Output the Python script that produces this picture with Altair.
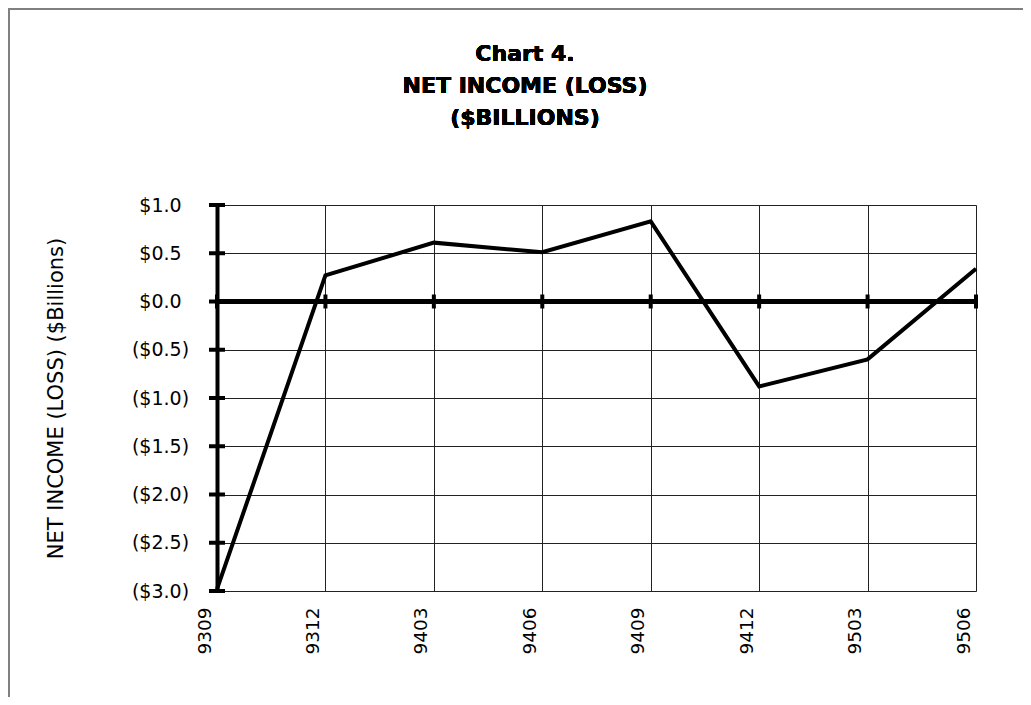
import altair as alt
import pandas as pd

periods = ["9309", "9312", "9403", "9406", "9409", "9412", "9503", "9506"]
net_income = [-2.98, 0.27, 0.61, 0.51, 0.83, -0.88, -0.60, 0.34]
y_ticks = [-3.0, -2.5, -2.0, -1.5, -1.0, -0.5, 0.0, 0.5, 1.0]
title_lines = ["Chart 4.", "NET INCOME (LOSS)", "($BILLIONS)"]
y_title = "NET INCOME (LOSS) ($Billions)"

FONT = "DejaVu Sans"

df = pd.DataFrame({"period": periods, "value": net_income})
yt_df = pd.DataFrame({"period": [periods[0]] * len(y_ticks), "value": y_ticks})
zero_df = pd.DataFrame({"period": periods, "value": [0.0] * len(periods)})

x_scale = alt.Scale(type="point", padding=0, domain=periods)
y_scale = alt.Scale(domain=[-3, 1], nice=False, zero=False)

label_expr = ("datum.value < 0 ? '($' + format(-datum.value, '.1f') + ')' "
              ": '$' + format(datum.value, '.1f')")

x_axis = alt.Axis(title=None, labelAngle=270, labelFontSize=18.5, labelFont=FONT,
                  labelColor="black", labelPadding=16, labelOffset=-13,
                  ticks=False, tickSize=0, domain=False, grid=True,
                  gridColor="#222222", gridWidth=1)
y_axis = alt.Axis(values=y_ticks, labelExpr=label_expr, labelAlign="center",
                  labelBaseline="middle", labelPadding=57, labelFontSize=19,
                  labelFont=FONT, labelColor="black", ticks=False, tickSize=0,
                  domain=True, domainColor="black", domainWidth=4,
                  grid=True, gridColor="#222222", gridWidth=1,
                  title=y_title, titleFont=FONT, titleFontSize=21,
                  titleFontWeight="normal", titleColor="black",
                  titleAngle=270, titleAlign="center", titleBaseline="alphabetic",
                  titleX=-155, titleY=193)

x_enc = alt.X("period:O", scale=x_scale, sort=periods, axis=x_axis)
y_enc = alt.Y("value:Q", scale=y_scale, axis=y_axis)

frame = alt.Chart(df).mark_rect(fillOpacity=0, stroke="#808080", strokeWidth=2).encode(
    x=alt.value(-208), x2=alt.value(1200), y=alt.value(-196), y2=alt.value(1200)
)

title = alt.Chart(df).mark_text(font=FONT, fontSize=22, fontWeight="bold", color="black",
                                align="center", baseline="alphabetic", lineHeight=32).encode(
    text=alt.value(title_lines), x=alt.value(308), y=alt.value(-144)
)

line = alt.Chart(df).mark_line(color="black", strokeWidth=4, strokeJoin="miter").encode(
    x=x_enc, y=y_enc
)

zero_rule = alt.Chart(zero_df).mark_rule(color="black", strokeWidth=4).encode(
    y=alt.Y("value:Q", scale=y_scale, axis=y_axis)
)

zero_ticks = alt.Chart(zero_df).mark_tick(color="black", orient="vertical", size=14,
                                          thickness=4, opacity=1).encode(
    x=x_enc, y=y_enc
)

y_tick_marks = alt.Chart(yt_df).mark_tick(color="black", orient="horizontal", size=16,
                                          thickness=4, opacity=1).encode(
    x=x_enc, y=y_enc
)

chart = alt.layer(frame, title, zero_rule, zero_ticks, y_tick_marks, line).properties(
    width=759,
    height=386,
    autosize=alt.AutoSizeParams(type="none"),
    padding={"left": 209, "top": 197, "right": 47, "bottom": 106},
).configure_view(stroke=None).configure(background="white")

chart.save("out.html", embed_options={"renderer": "svg", "actions": False})
